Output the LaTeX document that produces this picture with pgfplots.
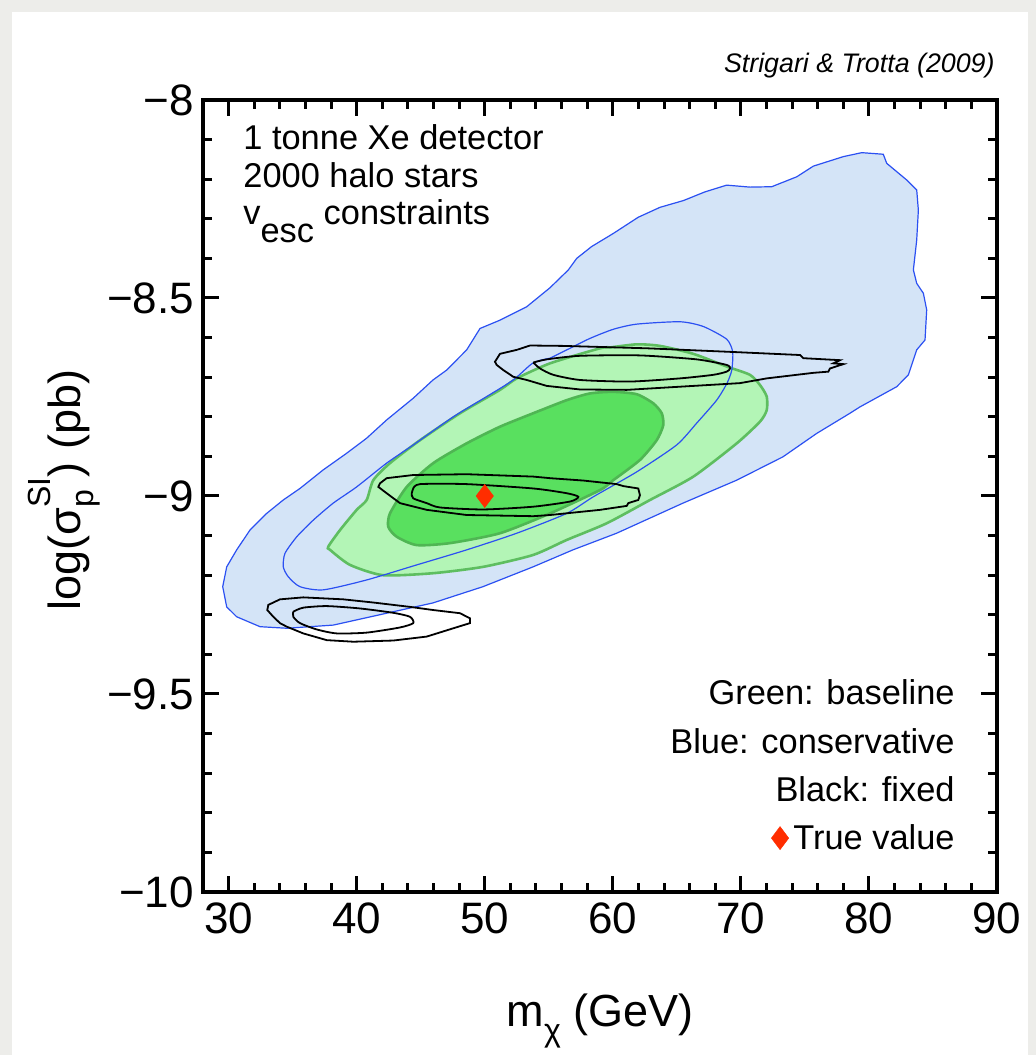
\documentclass[border=0pt]{standalone}
\usepackage{pgfplots}
\pgfplotsset{compat=1.18}
\usepackage{fontspec}
\setmainfont{Liberation Sans}
\definecolor{bggray}{HTML}{EDEDEA}
\definecolor{bluefill}{HTML}{D4E4F7}
\definecolor{blueedge}{HTML}{2B50F2}
\definecolor{gfill1}{HTML}{B3F5B6}
\definecolor{gedge1}{HTML}{5EBE60}
\definecolor{gfill2}{HTML}{59E05F}
\definecolor{gedge2}{HTML}{4FB653}
\definecolor{truered}{HTML}{FF2D00}
\newcommand\txt{\fontsize{17.2}{20}\selectfont}
\newcommand\tk{\fontsize{22}{26}\selectfont}
\newcommand\lab{\fontsize{22.5}{26}\selectfont}
\newcommand\scr{\fontsize{16}{18}\selectfont}
\begin{document}
\begin{tikzpicture}[x=1pt,y=1pt]
\useasboundingbox (0,0) rectangle (518,527.5);
\fill[bggray] (0,0) rectangle (518,527.5);
\fill[white] (6,0) rectangle (514,521.5);
\begin{axis}[
  at={(101.5pt,81.5pt)}, anchor=south west,
  scale only axis, width=397pt, height=396pt,
  xmin=28, xmax=90, ymin=-10, ymax=-8,
  xtick={30,40,50,60,70,80,90},
  xticklabels={30,40,50,60,70,80,90},
  ytick={-10,-9.5,-9,-8.5,-8},
  yticklabels={−10,−9.5,−9,−8.5,−8},
  minor x tick num=4, minor y tick num=4,
  tick align=inside,
  xtick pos=both, ytick pos=both,
  major tick length=8pt, minor tick length=4.5pt,
  tick style={black, line width=1.5pt},
  axis line style={line width=2.2pt},
  xticklabel style={font=\tk, yshift=-2pt},
  yticklabel style={font=\tk, xshift=-1pt},
  clip=false,
  axis on top,
]
% Blue (conservative) outer region
\addplot[fill=bluefill, draw=blueedge, line width=0.6pt] coordinates {
(45.96,-8.707) (44.42,-8.753) (42.34,-8.808) (40.78,-8.854) (39.22,-8.892) (37.39,-8.934) (35.57,-8.981) (34.27,-9.010) (32.97,-9.044) (31.67,-9.086) (30.63,-9.136) (29.85,-9.179) (29.54,-9.229) (29.85,-9.280) (30.63,-9.305) (32.45,-9.330) (34.54,-9.334) (38.17,-9.326) (42.34,-9.296) (45.96,-9.270) (49.86,-9.229) (53.77,-9.179) (56.89,-9.136) (60.30,-9.094) (65.48,-9.018) (69.68,-8.960) (73.29,-8.901) (75.92,-8.842) (78.52,-8.791) (79.30,-8.775) (82.17,-8.724) (83.08,-8.694) (83.73,-8.631) (84.38,-8.606) (84.51,-8.530) (84.25,-8.488) (83.73,-8.463) (83.47,-8.429) (83.73,-8.354) (83.86,-8.278) (83.73,-8.227) (82.95,-8.202) (82.17,-8.181) (81.39,-8.160) (81.12,-8.137) (79.44,-8.133) (78.00,-8.143) (75.66,-8.167) (74.36,-8.194) (72.41,-8.219) (70.71,-8.220) (68.89,-8.215) (67.20,-8.232) (65.51,-8.254) (63.69,-8.271) (61.99,-8.296) (60.04,-8.337) (58.35,-8.370) (57.18,-8.400) (56.53,-8.429) (55.10,-8.474) (53.28,-8.522) (51.19,-8.556) (49.63,-8.577) (48.59,-8.631) (47.03,-8.682)
} -- cycle;
% Green outer
\addplot[fill=gfill1, draw=gedge1, line width=1.3pt, smooth, tension=0.4] coordinates {
(59.78,-8.625) (61.87,-8.617) (63.69,-8.621) (66.29,-8.641) (68.89,-8.673) (70.71,-8.694) (71.50,-8.720) (72.02,-8.749) (72.02,-8.783) (71.50,-8.812) (69.68,-8.867) (66.29,-8.951) (62.91,-9.010) (59.52,-9.069) (56.40,-9.111) (53.77,-9.149) (49.86,-9.179) (45.96,-9.195) (42.06,-9.200) (39.48,-9.174) (37.92,-9.136) (37.78,-9.128) (38.70,-9.086) (40.00,-9.035) (40.78,-9.010) (41.30,-8.960) (42.60,-8.917) (44.95,-8.859) (48.07,-8.791) (51.19,-8.732) (52.50,-8.703) (55.10,-8.665) (59.00,-8.627) (59.78,-8.625)
} -- cycle;
% Green inner
\addplot[fill=gfill2, draw=gedge2, line width=1.3pt, smooth, tension=0.4] coordinates {
(53.79,-8.791) (56.40,-8.758) (58.22,-8.741) (60.04,-8.737) (61.87,-8.743) (63.16,-8.766) (63.82,-8.791) (63.94,-8.821) (63.43,-8.859) (62.12,-8.909) (60.04,-8.960) (59.00,-8.985) (55.10,-9.044) (51.19,-9.094) (47.29,-9.119) (44.69,-9.124) (43.13,-9.103) (42.47,-9.078) (42.60,-9.044) (43.91,-8.977) (45.98,-8.917) (48.59,-8.867) (51.19,-8.825) (53.79,-8.791)
} -- cycle;
% Blue inner contour (line only)
\addplot[draw=blueedge, line width=0.6pt, smooth, tension=0.4] coordinates {
(55.10,-8.652) (56.66,-8.627) (58.22,-8.602) (60.04,-8.579) (61.87,-8.566) (65.25,-8.560) (67.07,-8.572) (68.89,-8.604) (69.36,-8.636) (69.29,-8.682) (68.92,-8.715) (68.11,-8.758) (66.55,-8.816) (64.99,-8.871) (61.87,-8.939) (58.48,-9.002) (56.40,-9.044) (52.50,-9.094) (48.59,-9.136) (44.69,-9.174) (40.78,-9.212) (37.39,-9.237) (35.57,-9.229) (34.66,-9.204) (34.27,-9.179) (34.40,-9.145) (35.32,-9.103) (36.61,-9.061) (38.17,-9.018) (40.00,-8.977) (42.34,-8.917) (44.42,-8.871) (47.55,-8.800) (50.15,-8.749) (52.23,-8.707) (53.77,-8.664) (55.10,-8.652)
};
% Black (fixed) contours
\addplot[draw=black, line width=0.9pt] coordinates {
(50.80,-8.661) (51.19,-8.641) (52.50,-8.631) (53.54,-8.620) (56.14,-8.621) (62.65,-8.627) (69.15,-8.636) (74.62,-8.644) (74.88,-8.652) (77.74,-8.657) (77.22,-8.665) (78.00,-8.667) (76.96,-8.678) (76.83,-8.686) (75.66,-8.689) (74.36,-8.694) (72.02,-8.703) (69.93,-8.715) (65.25,-8.724) (61.09,-8.732) (57.44,-8.731) (54.84,-8.722) (53.28,-8.707) (52.23,-8.699) (51.45,-8.682) (50.93,-8.669)
} -- cycle;
\addplot[draw=black, line width=0.9pt, smooth, tension=0.4] coordinates {
(53.79,-8.663) (54.84,-8.655) (57.44,-8.646) (62.12,-8.645) (66.55,-8.655) (68.89,-8.669) (69.15,-8.678) (68.89,-8.686) (67.85,-8.694) (65.25,-8.703) (61.34,-8.711) (57.44,-8.707) (55.35,-8.694) (54.32,-8.678) (53.79,-8.663)
};
\addplot[draw=black, line width=0.9pt] coordinates {
(41.82,-8.968) (42.34,-8.955) (44.42,-8.947) (48.59,-8.945) (53.79,-8.951) (55.10,-8.955) (57.70,-8.961) (60.30,-8.970) (60.82,-8.975) (61.99,-8.981) (62.12,-8.998) (61.99,-9.010) (61.21,-9.018) (61.09,-9.025) (59.00,-9.035) (55.10,-9.048) (53.79,-9.051) (48.59,-9.048) (45.47,-9.035) (43.38,-9.018) (42.34,-8.993) (41.69,-8.977)
} -- cycle;
\addplot[draw=black, line width=0.9pt, smooth, tension=0.4] coordinates {
(44.42,-8.981) (44.95,-8.970) (48.59,-8.970) (53.79,-8.981) (56.40,-8.993) (57.31,-9.002) (56.66,-9.014) (53.79,-9.027) (49.89,-9.034) (46.51,-9.029) (45.47,-9.018) (44.42,-9.006) (44.30,-8.993) (44.42,-8.981)
};
\addplot[draw=black, line width=0.9pt] coordinates {
(33.10,-9.275) (34.01,-9.261) (35.83,-9.256) (38.96,-9.261) (41.30,-9.269) (44.16,-9.280) (45.98,-9.288) (48.07,-9.296) (48.85,-9.309) (48.85,-9.321) (47.55,-9.334) (45.47,-9.355) (42.86,-9.365) (39.74,-9.368) (37.66,-9.364) (35.83,-9.347) (34.54,-9.330) (34.01,-9.321) (33.49,-9.305) (33.02,-9.288)
} -- cycle;
\addplot[draw=black, line width=0.9pt, smooth, tension=0.4] coordinates {
(35.05,-9.292) (35.83,-9.282) (37.66,-9.278) (40.26,-9.284) (42.86,-9.295) (44.16,-9.305) (44.42,-9.321) (43.38,-9.332) (40.78,-9.345) (38.44,-9.347) (36.88,-9.337) (35.57,-9.321) (35.05,-9.305) (35.05,-9.292)
};
% True value and legend symbol
\addplot[only marks, mark=diamond*, mark size=5.8pt, mark options={fill=truered, draw=truered, line width=0.2pt}] coordinates {(50,-9) (73.06,-9.864)};
\end{axis}
% texts
\node[anchor=base west, inner sep=0pt] at (121.5,452.5) {\txt 1 tonne Xe detector};
\node[anchor=base west, inner sep=0pt] at (121.5,433.5) {\txt 2000 halo stars};
\node[anchor=base west, inner sep=0pt] at (121.5,415) {\txt v\raisebox{-0.5em}{esc} constraints};
\node[anchor=base east, inner sep=0pt] at (477.5,175) {\txt Green: baseline};
\node[anchor=base east, inner sep=0pt] at (477.5,150.5) {\txt Blue: conservative};
\node[anchor=base east, inner sep=0pt] at (477.5,126.5) {\txt Black: fixed};
\node[anchor=base east, inner sep=0pt] at (477.5,102.5) {\txt True value};
\node[anchor=base east, inner sep=0pt] at (497.5,491) {\fontsize{13.4}{16}\selectfont\itshape Strigari \& Trotta (2009)};
\node[anchor=base, inner sep=0pt] at (300,14) {\lab m\raisebox{-0.32em}{\scr χ} (GeV)};
\node[anchor=base, inner sep=0pt, rotate=90] at (40,282.5) {\lab log(σ\rlap{\raisebox{-0.3em}{\scr p}}\raisebox{0.65em}{\scr SI}) (pb)};
\end{tikzpicture}
\end{document}
